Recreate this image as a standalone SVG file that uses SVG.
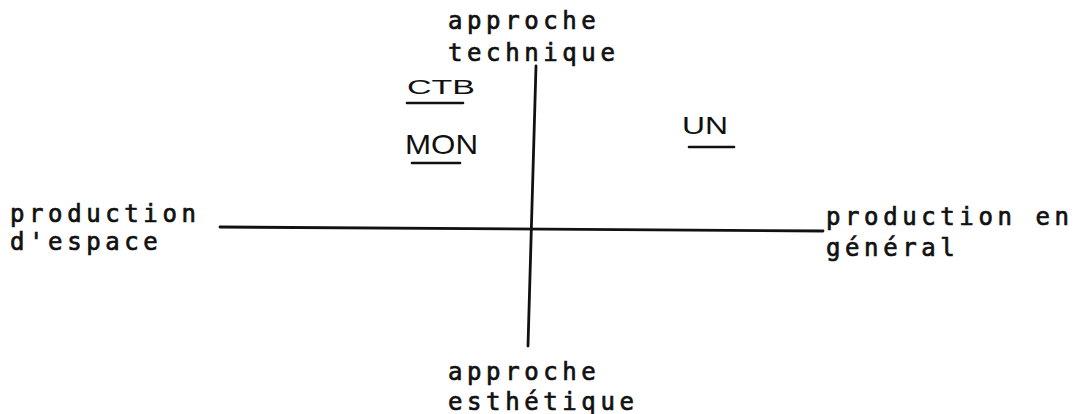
<svg xmlns="http://www.w3.org/2000/svg" width="1078" height="414" viewBox="0 0 1078 414">
  <style>
    .tw { font-family: "DejaVu Sans Mono", "Liberation Mono", monospace; font-size: 24px; letter-spacing: 4.6px; fill: #111; stroke: #111; stroke-width: 0.7px; }
    .hw { font-family: "Liberation Sans", "DejaVu Sans", sans-serif; fill: #111; }
    .ax { stroke: #111; stroke-width: 2.8; fill: none; stroke-linecap: round; }
    .ul { stroke: #111; stroke-width: 2.6; fill: none; stroke-linecap: round; }
  </style>
  <rect width="1078" height="414" fill="#fff"/>
  <g id="connectors">
    <line class="ax" x1="536" y1="66" x2="528" y2="346"/>
    <line class="ax" x1="220" y1="227" x2="823" y2="231"/>
  </g>
  <g id="top-label">
    <text class="tw" x="448" y="29">approche</text>
    <text class="tw" x="448" y="61">technique</text>
  </g>
  <g id="bottom-label">
    <text class="tw" x="448" y="380">approche</text>
    <text class="tw" x="448" y="410">esthétique</text>
  </g>
  <g id="left-label">
    <text class="tw" x="10" y="222">production</text>
    <text class="tw" x="10" y="250">d'espace</text>
  </g>
  <g id="right-label">
    <text class="tw" x="826" y="225">production en</text>
    <text class="tw" x="826" y="256">général</text>
  </g>
  <g id="CTB">
    <text class="hw" x="407" y="94" font-size="20" textLength="68" lengthAdjust="spacingAndGlyphs">CTB</text>
    <line class="ul" x1="407" y1="103" x2="463" y2="103"/>
  </g>
  <g id="MON">
    <text class="hw" x="405" y="154" font-size="28" textLength="73" lengthAdjust="spacingAndGlyphs">MON</text>
    <line class="ul" x1="412" y1="163" x2="460" y2="163"/>
  </g>
  <g id="UN">
    <text class="hw" x="682" y="134" font-size="24" textLength="46" lengthAdjust="spacingAndGlyphs">UN</text>
    <line class="ul" x1="689" y1="147" x2="734" y2="147"/>
  </g>
</svg>
